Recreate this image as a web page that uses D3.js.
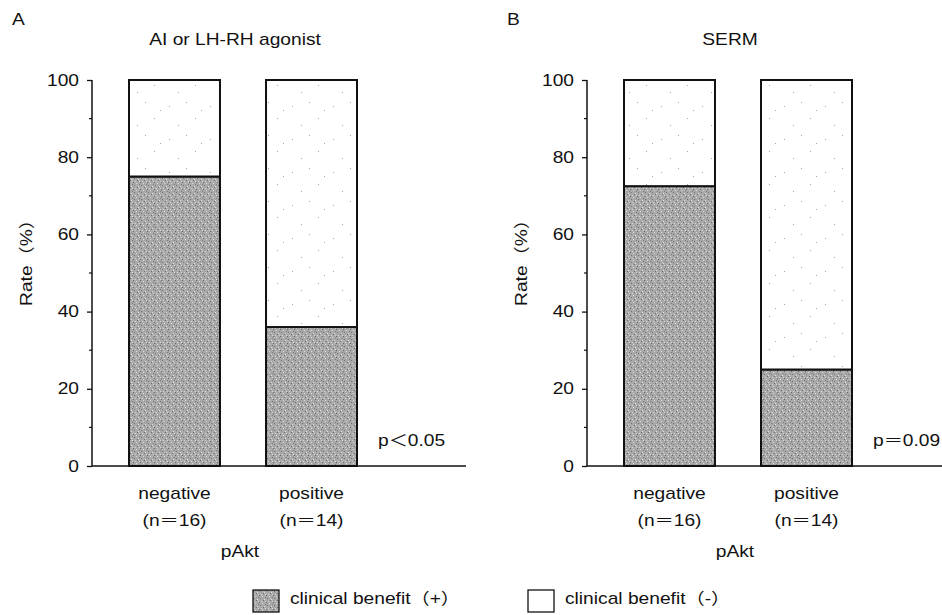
<!DOCTYPE html>
<html>
<head>
<meta charset="utf-8">
<script src="https://cdn.jsdelivr.net/npm/d3@7"></script>
<style>
  body { margin: 0; background: #fff; }
  text { font-family: "Liberation Sans", Arial, "Noto Sans CJK JP", sans-serif; font-size: 16px; fill: #111; }
</style>
</head>
<body>
<div id="chart"></div>
<script>
// data
var panelLetters = ["A", "B"];
var panelTitles = ["AI or LH-RH agonist", "SERM"];
var categories = ["negative", "positive"];
var nLabels = ["(n＝16)", "(n＝14)"];
var benefitA = [75, 36];      // clinical benefit (+), %
var benefitB = [72.5, 25];
var pLabels = ["p＜0.05", "p＝0.09"];
var yTicks = [0, 20, 40, 60, 80, 100];
var yMinorTicks = [10, 30, 50, 70, 90];
var legendLabels = ["clinical benefit（+）", "clinical benefit（-）"];

var W = 942, H = 615, sx = 1.2;

var svg = d3.select("#chart").append("svg")
  .attr("width", W)
  .attr("height", H);

// stippled grey like the printed halftone
var defs = svg.append("defs");
var pat = defs.append("pattern")
  .attr("id", "stipple")
  .attr("patternUnits", "userSpaceOnUse")
  .attr("width", 7).attr("height", 7);
pat.append("rect").attr("width", 7).attr("height", 7).attr("fill", "#a9a9a9");
[[0, 0, "#666"], [3, 1, "#dcdcdc"], [1, 3, "#737373"], [5, 4, "#e2e2e2"], [6, 2, "#7d7d7d"],
 [2, 6, "#d4d4d4"], [4, 5, "#6e6e6e"], [6, 6, "#d8d8d8"]]
  .forEach(function(p) {
    pat.append("rect").attr("x", p[0]).attr("y", p[1]).attr("width", 1).attr("height", 1).attr("fill", p[2]);
  });

// sparse specks on the white part
var speck = defs.append("pattern")
  .attr("id", "speckle")
  .attr("patternUnits", "userSpaceOnUse")
  .attr("width", 41).attr("height", 33);
speck.append("rect").attr("width", 41).attr("height", 33).attr("fill", "#fff");
[[5, 7], [22, 3], [31, 19], [14, 26], [37, 11]].forEach(function(p) {
  speck.append("rect").attr("x", p[0]).attr("y", p[1]).attr("width", 1).attr("height", 1).attr("fill", "#a5a5a5");
});

function label(g, x, y, str, anchor, extra) {
  return g.append("text")
    .attr("transform", "translate(" + x + "," + y + ")" + (extra || "") + " scale(" + sx + ",1)")
    .attr("text-anchor", anchor || "start")
    .text(str);
}

var y = d3.scaleLinear().domain([0, 100]).range([466, 80]);

var panels = [
  { axisX: 92, right: 466, values: benefitA },
  { axisX: 587, right: 942, values: benefitB }
];

var stack = d3.stack().keys(["plus", "minus"]);

panels.forEach(function(p, i) {
  var g = svg.append("g");
  var x = d3.scaleBand()
    .domain(categories)
    .range([p.axisX + 37, p.axisX + 265])
    .paddingInner(0.336);

  var rows = categories.map(function(c, j) {
    return { cat: c, plus: p.values[j], minus: 100 - p.values[j] };
  });
  var series = stack(rows);

  g.selectAll(".layer")
    .data(series)
    .enter().append("g")
    .attr("fill", function(d) { return d.key === "plus" ? "url(#stipple)" : "url(#speckle)"; })
    .selectAll("rect")
    .data(function(d) { return d; })
    .enter().append("rect")
    .attr("x", function(d) { return x(d.data.cat); })
    .attr("y", function(d) { return y(d[1]); })
    .attr("width", x.bandwidth())
    .attr("height", function(d) { return y(d[0]) - y(d[1]); })
    .attr("stroke", "#111")
    .attr("stroke-width", 2);

  // y axis with minor ticks
  var ax = g.append("g")
    .attr("transform", "translate(" + p.axisX + ",0)")
    .call(d3.axisLeft(y).tickValues(yTicks).tickSize(5).tickPadding(8));
  ax.select(".domain").attr("stroke", "#111").attr("stroke-width", 1.5)
    .attr("d", "M0," + y(0) + "V" + y(100));
  ax.selectAll(".tick line").attr("stroke", "#111").attr("stroke-width", 1.3);
  ax.selectAll(".tick text")
    .attr("x", -13 / sx)
    .attr("transform", "scale(" + sx + ",1)")
    .attr("font-size", 16)
    .attr("font-family", null)
    .attr("fill", "#111");

  g.append("g")
    .attr("transform", "translate(" + p.axisX + ",0)")
    .selectAll("line")
    .data(yMinorTicks)
    .enter().append("line")
    .attr("x1", -3).attr("x2", 0)
    .attr("y1", function(d) { return y(d); })
    .attr("y2", function(d) { return y(d); })
    .attr("stroke", "#111")
    .attr("stroke-width", 1.2);

  // baseline
  g.append("line")
    .attr("x1", p.axisX).attr("x2", p.right)
    .attr("y1", y(0)).attr("y2", y(0))
    .attr("stroke", "#111").attr("stroke-width", 1.5);

  // texts
  label(g, p.axisX - 80, 25, panelLetters[i], "start").attr("font-size", 18);
  label(g, p.axisX + 143, 45, panelTitles[i], "middle");
  label(g, p.axisX - 60, 258, "Rate（%）", "middle", " rotate(-90)");
  label(g, p.axisX + 286, 446, pLabels[i], "start");

  categories.forEach(function(c, j) {
    var cx = x(c) + x.bandwidth() / 2;
    label(g, cx, 499, c, "middle");
    label(g, cx, 526, nLabels[j], "middle");
  });
  label(g, p.axisX + 148, 557, "pAkt", "middle");
});

// legend
var legend = svg.append("g");
var legendX = [253, 528];
var legendFill = ["url(#stipple)", "#fff"];
legendLabels.forEach(function(t, i) {
  legend.append("rect")
    .attr("x", legendX[i]).attr("y", 590)
    .attr("width", 26).attr("height", 22)
    .attr("fill", legendFill[i])
    .attr("stroke", "#111").attr("stroke-width", 1.3);
  label(legend, legendX[i] + 37, 604, t, "start");
});
</script>
</body>
</html>
